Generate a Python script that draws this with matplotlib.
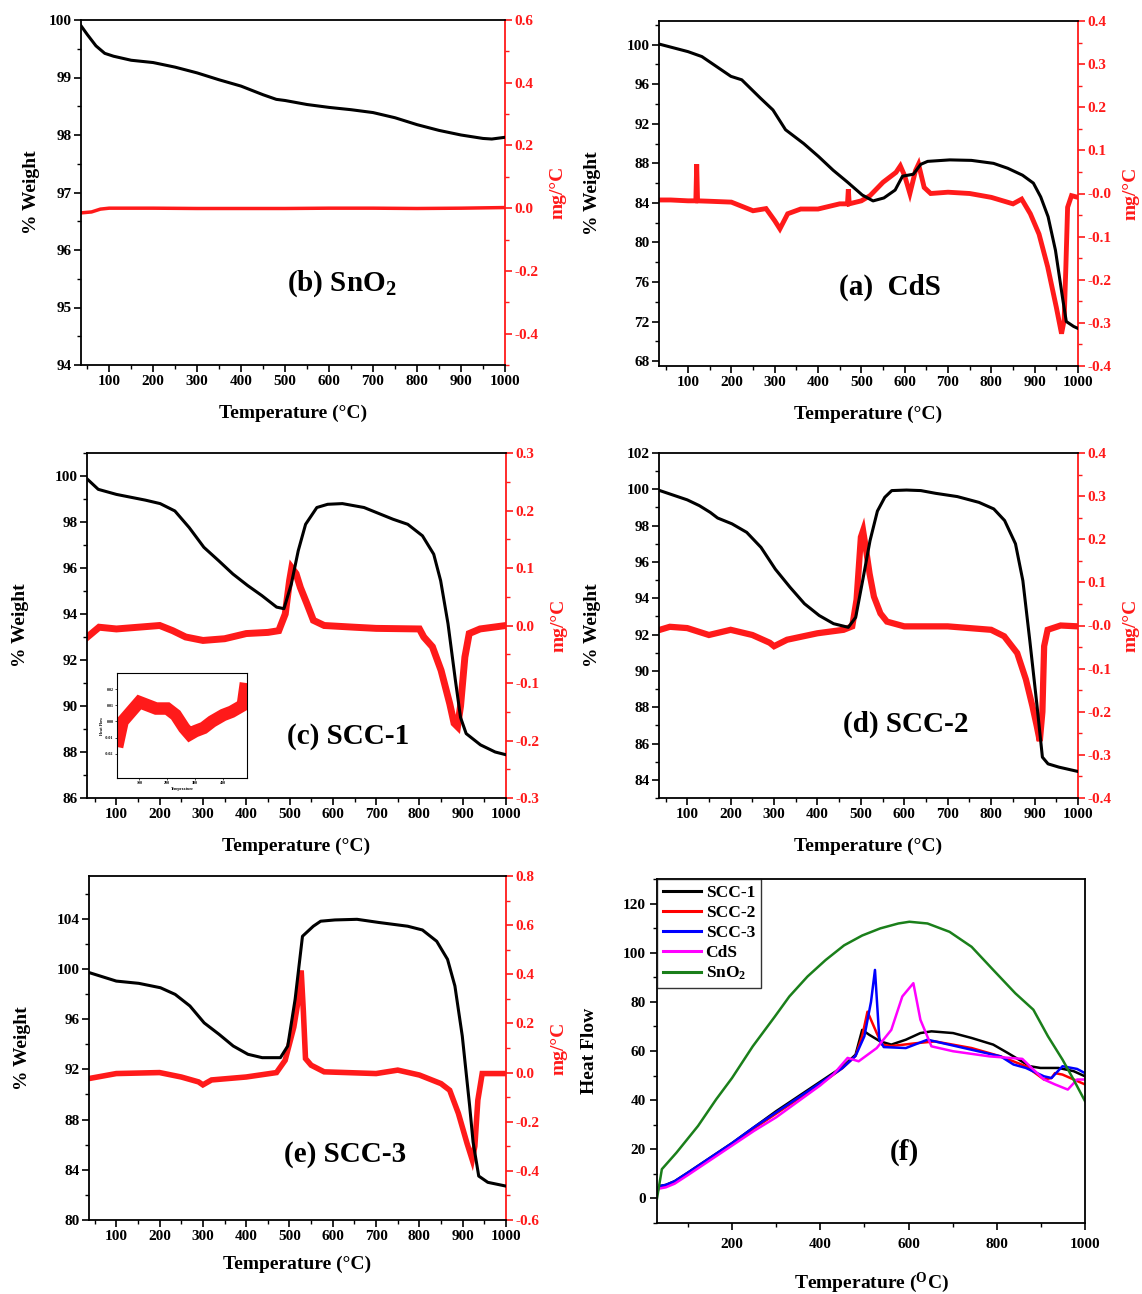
import matplotlib
matplotlib.use("Agg")
import matplotlib.pyplot as plt
import numpy as np
from matplotlib.ticker import MultipleLocator, FormatStrFormatter

plt.rcParams['font.family'] = ['Liberation Serif', 'DejaVu Serif']
plt.rcParams['font.weight'] = 'bold'
plt.rcParams['axes.labelweight'] = 'bold'
plt.rcParams['mathtext.fontset'] = 'custom'
plt.rcParams['mathtext.rm'] = 'Liberation Serif:bold'
plt.rcParams['mathtext.it'] = 'Liberation Serif:bold'
plt.rcParams['mathtext.bf'] = 'Liberation Serif:bold'

# ---------------- data ----------------
# (b) SnO2
sno2_T = [36, 50, 70, 90, 110, 150, 200, 250, 300, 350, 400, 450, 480, 500, 550, 600, 650,
          700, 750, 800, 850, 900, 950, 970, 1000]
sno2_W = [99.9, 99.75, 99.55, 99.42, 99.37, 99.3, 99.26, 99.18, 99.08, 98.96, 98.85, 98.7,
          98.62, 98.6, 98.53, 98.48, 98.44, 98.39, 98.3, 98.18, 98.08, 98.0, 97.94, 97.93, 97.96]
sno2_dT = [36, 60, 80, 100, 200, 300, 400, 500, 600, 700, 800, 900, 1000]
sno2_D = [-0.015, -0.012, -0.003, 0.0, 0.0, -0.001, -0.001, -0.001, 0.0, 0.0, -0.001, 0.0, 0.002]

# (a) CdS
cds_T = [33, 100, 132, 199, 224, 267, 296, 325, 367, 401, 435, 468, 502, 527, 552, 578, 595,
         620, 637, 653, 704, 754, 805, 838, 872, 897, 914, 931, 948, 965, 973, 990, 1000]
cds_W = [100.07, 99.3, 98.8, 96.8, 96.45, 94.6, 93.4, 91.4, 90.0, 88.7, 87.3, 86.1, 84.8, 84.2,
         84.5, 85.3, 86.7, 86.9, 87.9, 88.2, 88.35, 88.3, 88.0, 87.5, 86.8, 86.0, 84.6, 82.6,
         79.2, 74.2, 72.0, 71.5, 71.3]
cds_dT = [33, 60, 100, 118, 120, 122, 150, 200, 250, 280, 300, 312, 330, 360, 400, 450, 468, 470,
          472, 500, 520, 550, 580, 590, 600, 612, 625, 632, 645, 660, 700, 750, 800, 850, 870, 890,
          910, 930, 950, 962, 968, 972, 976, 985, 1000]
cds_D = [-0.015, -0.015, -0.017, -0.017, 0.068, -0.017, -0.018, -0.02, -0.04, -0.035, -0.063,
         -0.082, -0.047, -0.036, -0.036, -0.024, -0.024, 0.01, -0.024, -0.017, -0.005, 0.026,
         0.049, 0.064, 0.041, 0.0, 0.053, 0.068, 0.014, 0.0, 0.003, 0.0, -0.009, -0.024, -0.013,
         -0.047, -0.094, -0.17, -0.264, -0.325, -0.294, -0.17, -0.032, -0.005, -0.009]

# (c) SCC-1
scc1_T = [33, 58, 100, 167, 201, 235, 268, 302, 336, 369, 403, 436, 470, 487, 504, 520, 537,
          563, 588, 622, 672, 739, 773, 807, 833, 849, 866, 883, 895, 908, 941, 975, 1000]
scc1_W = [99.86, 99.42, 99.2, 98.95, 98.8, 98.48, 97.76, 96.9, 96.32, 95.74, 95.24, 94.8, 94.3,
          94.23, 95.3, 96.75, 97.9, 98.63, 98.77, 98.8, 98.63, 98.12, 97.9, 97.4, 96.6, 95.45,
          93.58, 91.13, 89.5, 88.8, 88.31, 88.0, 87.88]
scc1_dT = [33, 60, 100, 150, 200, 230, 260, 300, 350, 400, 450, 475, 490, 500, 505, 515, 525,
           540, 555, 580, 650, 700, 800, 810, 830, 850, 870, 880, 888, 895, 905, 915, 940, 1000]
scc1_D = [-0.02, -0.003, -0.006, -0.003, 0.0, -0.009, -0.02, -0.026, -0.023, -0.014, -0.012,
          -0.009, 0.02, 0.078, 0.1, 0.09, 0.066, 0.038, 0.009, 0.0, -0.003, -0.005, -0.006, -0.02,
          -0.037, -0.078, -0.136, -0.17, -0.176, -0.14, -0.055, -0.014, -0.006, 0.0]
inset_T = [25, 40, 60, 80, 100, 130, 160, 200, 230, 260, 280, 300, 330, 360, 400, 430, 450, 470, 478]
inset_D = [-0.012, 0.0, 0.004, 0.008, 0.012, 0.01, 0.008, 0.008, 0.004, -0.004, -0.008, -0.006,
           -0.004, 0.0, 0.004, 0.006, 0.008, 0.01, 0.02]

# (d) SCC-2
scc2_T = [37, 100, 128, 153, 170, 203, 237, 270, 303, 337, 370, 404, 437, 471, 488, 504, 521,
          538, 555, 571, 605, 638, 672, 722, 772, 806, 831, 856, 873, 889, 906, 918, 931, 956, 1000]
scc2_W = [99.93, 99.42, 99.1, 98.73, 98.42, 98.1, 97.63, 96.8, 95.6, 94.6, 93.7, 93.05, 92.6,
          92.4, 92.95, 94.97, 97.17, 98.8, 99.56, 99.93, 99.96, 99.93, 99.78, 99.6, 99.28, 98.92,
          98.28, 97.0, 94.97, 91.67, 88.0, 85.25, 84.88, 84.7, 84.46]
scc2_dT = [37, 60, 100, 150, 200, 250, 290, 300, 330, 400, 460, 480, 490, 500, 505, 512, 520,
           530, 545, 560, 600, 700, 800, 830, 860, 880, 895, 905, 912, 918, 922, 930, 960, 1000]
scc2_D = [-0.01, -0.003, -0.006, -0.022, -0.01, -0.022, -0.04, -0.048, -0.033, -0.018, -0.01,
          -0.002, 0.06, 0.205, 0.22, 0.175, 0.12, 0.067, 0.028, 0.009, -0.002, -0.002, -0.01,
          -0.025, -0.064, -0.125, -0.187, -0.233, -0.268, -0.2, -0.048, -0.01, 0.0, -0.002]

# (e) SCC-3
scc3_T = [38, 100, 152, 202, 236, 270, 303, 337, 370, 404, 437, 479, 496, 513, 530, 555, 572,
          605, 656, 706, 773, 807, 840, 865, 882, 899, 916, 924, 937, 958, 1000]
scc3_W = [99.7, 99.03, 98.85, 98.5, 97.97, 97.05, 95.7, 94.8, 93.86, 93.2, 92.93, 92.93, 93.86,
          97.58, 102.6, 103.4, 103.8, 103.9, 103.95, 103.7, 103.4, 103.1, 102.2, 100.76, 98.64,
          94.66, 89.1, 86.2, 83.5, 83.0, 82.7]
scc3_dT = [38, 100, 200, 250, 290, 300, 320, 400, 470, 490, 510, 520, 527, 532, 537, 550, 580,
           700, 750, 800, 850, 870, 890, 910, 922, 928, 935, 945, 1000]
scc3_D = [-0.024, -0.004, 0.0, -0.018, -0.038, -0.05, -0.03, -0.018, 0.0, 0.05, 0.185, 0.293,
          0.415, 0.25, 0.057, 0.03, 0.003, -0.004, 0.01, -0.01, -0.045, -0.072, -0.166, -0.288,
          -0.355, -0.3, -0.112, -0.004, -0.004]

# (f) Heat flow
hf_sno2_T = [30, 41, 74, 123, 164, 200, 247, 297, 330, 371, 412, 454, 495, 536, 577, 602, 643,
             693, 743, 792, 842, 883, 916, 949, 974, 1000]
hf_sno2 = [0, 11.9, 18.6, 29.5, 40.3, 49, 61.9, 74, 82.2, 90.3, 97, 103, 107, 109.9, 111.9,
           112.6, 111.9, 108.5, 102.4, 93, 83.5, 76.8, 66, 56.5, 48.4, 39.6]
hf_scc1_T = [30, 35, 50, 70, 100, 150, 200, 250, 300, 350, 400, 450, 480, 495, 511, 536, 561,
             594, 627, 652, 701, 743, 792, 825, 850, 875, 899, 940, 974, 1000]
hf_scc1 = [3, 5, 5.5, 7, 10.5, 16.5, 22.5, 29, 35.5, 41.5, 47.5, 53.5, 58.5, 68.6, 66.6, 63.9,
           62.6, 64.6, 67.3, 68, 67.3, 65.3, 62.6, 59.2, 56.5, 53.8, 53.1, 53.1, 51.8, 49.7]
hf_scc2_T = [30, 35, 50, 70, 100, 150, 200, 250, 300, 350, 400, 450, 480, 495, 507, 528, 540,
             560, 619, 660, 743, 809, 866, 907, 924, 932, 949, 1000]
hf_scc2 = [3, 4.5, 5, 6.5, 10, 16, 22, 28.5, 34.5, 40.5, 46.5, 53, 58, 66, 76, 67.3, 62.6, 62,
           63.2, 63.9, 61.2, 57.8, 53.8, 48.4, 49, 51, 50.4, 46.4]
hf_scc3_T = [30, 35, 50, 70, 100, 150, 200, 250, 300, 350, 400, 450, 480, 500, 515, 524, 534,
             544, 594, 643, 743, 809, 838, 866, 907, 924, 949, 982, 1000]
hf_scc3 = [3, 5, 5.5, 7, 10.5, 16.5, 22.5, 29, 35, 41, 47, 53, 58, 66, 80, 93, 64.6, 61.6, 61.2,
           64.6, 60.5, 57.8, 54.5, 53.1, 49.7, 49, 53.8, 52.7, 51]
hf_cds_T = [30, 35, 50, 70, 100, 150, 200, 250, 300, 350, 400, 430, 462, 487, 528, 561, 586, 611,
            627, 652, 701, 784, 858, 875, 907, 932, 961, 982, 1000]
hf_cds = [2.5, 4, 4.5, 6, 9.5, 15.5, 21.5, 27.5, 33, 39.5, 46, 50.5, 57.2, 55.8, 61.2, 68.6,
          82.2, 87.6, 72.7, 61.9, 59.9, 57.8, 56.8, 53.8, 48.4, 46.4, 44.3, 48.4, 48.4]

# ---------------- figure ----------------
W, H = 1142, 1294
fig = plt.figure(figsize=(W / 100, H / 100), dpi=100)
RED = '#ff1a1a'
TICKSIZE = 11


def ax_at(l, t, r, b):
    return fig.add_axes([l / W, 1 - b / H, (r - l) / W, (b - t) / H])


def style_x(ax, xlim, major=100, minor=50, first=100, pad=2):
    ax.set_xlim(*xlim)
    ax.set_xticks(np.arange(first, 1001, major))
    ax.xaxis.set_minor_locator(MultipleLocator(minor))
    ax.tick_params(axis='x', which='major', direction='out', length=5, width=1.2,
                   labelsize=TICKSIZE, pad=pad)
    ax.tick_params(axis='x', which='minor', direction='out', length=3, width=1)


def tga_panel(rect, T, Wt, dT, D, xlim, ylim, yticks, ymin, rlim, rticks, rmin, label, lpos,
              red_lw=3.0, xlabelpad=12, ylabelpad=18, rfmt='%.1f'):
    ax = ax_at(*rect)
    ax.plot(T, Wt, color='black', lw=2.2, zorder=3)
    style_x(ax, xlim)
    ax.set_ylim(*ylim)
    ax.set_yticks(yticks)
    ax.yaxis.set_minor_locator(MultipleLocator(ymin))
    ax.tick_params(axis='y', which='major', direction='out', length=5, width=1.2,
                   labelsize=TICKSIZE, pad=2)
    ax.tick_params(axis='y', which='minor', direction='out', length=3, width=1)
    for s in ['left', 'bottom', 'top']:
        ax.spines[s].set_linewidth(1.3)
    ax.spines['right'].set_visible(False)
    ax.set_xlabel('Temperature (°C)', fontsize=14, fontweight='bold', labelpad=xlabelpad)
    ax.set_ylabel('% Weight', fontsize=14, fontweight='bold', labelpad=ylabelpad)
    ax2 = ax.twinx()
    ax2.plot(dT, D, color=RED, lw=red_lw, zorder=2, solid_joinstyle='miter')
    ax2.set_ylim(*rlim)
    ax2.set_yticks(rticks)
    ax2.yaxis.set_major_formatter(FormatStrFormatter(rfmt))
    ax2.yaxis.set_minor_locator(MultipleLocator(rmin))
    for s in ['left', 'bottom', 'top']:
        ax2.spines[s].set_visible(False)
    ax2.spines['right'].set_color(RED)
    ax2.spines['right'].set_linewidth(1.3)
    ax2.tick_params(axis='y', which='major', direction='out', length=5, width=1.2,
                    colors=RED, labelsize=TICKSIZE, pad=2)
    ax2.tick_params(axis='y', which='minor', direction='out', length=3, width=1, colors=RED)
    ax2.set_ylabel('mg/°C', color=RED, fontsize=14, fontweight='bold', labelpad=8)
    ax.set_zorder(ax2.get_zorder() + 1)
    ax.patch.set_visible(False)
    fig.text(lpos[0] / W, 1 - lpos[1] / H, label, fontsize=21, fontweight='bold',
             ha='center', va='center')
    return ax, ax2


# (b) SnO2
tga_panel((81, 20, 505, 365), sno2_T, sno2_W, sno2_dT, sno2_D, (36, 1000), (94, 100),
          np.arange(94, 100.1, 1), 0.5, (-0.5, 0.6), np.arange(-0.4, 0.61, 0.2), 0.1,
          '(b) SnO$_2$', (342, 284), red_lw=2.5, ylabelpad=6)

# (a) CdS
tga_panel((659, 21, 1078, 366), cds_T, cds_W, cds_dT, cds_D, (33, 1000), (67.5, 102.4),
          np.arange(68, 100.1, 4), 2, (-0.4, 0.4), np.arange(-0.4, 0.41, 0.1), 0.05,
          '(a)  CdS', (890, 287), red_lw=3.5)

# (c) SCC-1
axc, axc2 = tga_panel((87, 453, 506, 798), scc1_T, scc1_W, scc1_dT, scc1_D, (32, 1000),
                      (86, 101), np.arange(86, 100.1, 2), 1, (-0.3, 0.3),
                      np.arange(-0.3, 0.31, 0.1), 0.05, '(c) SCC-1', (348, 736),
                      red_lw=5.0)

# inset
ins = ax_at(117, 673, 247, 778)
ins.plot(inset_T, inset_D, color=RED, lw=9, solid_joinstyle='miter')
ins.set_xlim(20, 485)
ins.set_ylim(-0.035, 0.03)
ins.set_xticks([100, 200, 300, 400])
ins.set_yticks([-0.02, -0.01, 0.0, 0.01, 0.02])
ins.yaxis.set_major_formatter(FormatStrFormatter('%.2f'))
ins.tick_params(labelsize=3, length=1.5, width=0.5, pad=1)
ins.set_xlabel('Temperature', fontsize=3, labelpad=1)
ins.set_ylabel('Heat Flow', fontsize=3, labelpad=1)
for s in ins.spines.values():
    s.set_linewidth(0.8)

# (d) SCC-2
tga_panel((659, 453, 1078, 798), scc2_T, scc2_W, scc2_dT, scc2_D, (35, 1000), (83, 102),
          np.arange(84, 102.1, 2), 1, (-0.4, 0.4), np.arange(-0.4, 0.41, 0.1), 0.05,
          '(d) SCC-2', (906, 724), red_lw=4.5)

# (e) SCC-3
tga_panel((89, 876, 506, 1220), scc3_T, scc3_W, scc3_dT, scc3_D, (37, 1000), (80, 107.4),
          np.arange(80, 104.1, 4), 2, (-0.6, 0.8), np.arange(-0.6, 0.81, 0.2), 0.1,
          '(e) SCC-3', (345, 1155), red_lw=4.0, xlabelpad=9)

# (f) Heat flow
axf = ax_at(657, 879, 1085, 1223)
axf.plot(hf_scc1_T, hf_scc1, color='black', lw=1.8, label='SCC-1')
axf.plot(hf_scc2_T, hf_scc2, color='#ff0000', lw=1.8, label='SCC-2')
axf.plot(hf_scc3_T, hf_scc3, color='#0000ff', lw=1.8, label='SCC-3')
axf.plot(hf_cds_T, hf_cds, color='#ff00ff', lw=1.8, label='CdS')
axf.plot(hf_sno2_T, hf_sno2, color='#1a7f1a', lw=1.8, label='SnO$_2$')
style_x(axf, (30, 1000), major=200, minor=100, first=200, pad=6)
axf.set_ylim(-10, 130)
axf.set_yticks(np.arange(0, 121, 20))
axf.yaxis.set_minor_locator(MultipleLocator(10))
axf.tick_params(axis='y', which='major', direction='out', length=5, width=1.2,
                labelsize=TICKSIZE, pad=3)
axf.tick_params(axis='y', which='minor', direction='out', length=3, width=1)
for s in axf.spines.values():
    s.set_linewidth(1.3)
axf.set_xlabel('Temperature ($^{O}$C)', fontsize=14, fontweight='bold', labelpad=14)
axf.set_ylabel('Heat Flow', fontsize=14, fontweight='bold', labelpad=18)
leg = axf.legend(loc='upper left', bbox_to_anchor=(0, 1), borderaxespad=0, fancybox=False,
                 frameon=True, edgecolor='black', handlelength=2.2, handletextpad=0.25,
                 labelspacing=0.22, borderpad=0.35,
                 prop={'family': 'Liberation Serif', 'weight': 'bold', 'size': 12.5})
leg.get_frame().set_linewidth(1.0)
for line in leg.get_lines():
    line.set_linewidth(2.2)
fig.text(904 / W, 1 - 1152 / H, '(f)', fontsize=21, fontweight='bold', ha='center',
         va='center')

fig.savefig('out.png', dpi=100)
